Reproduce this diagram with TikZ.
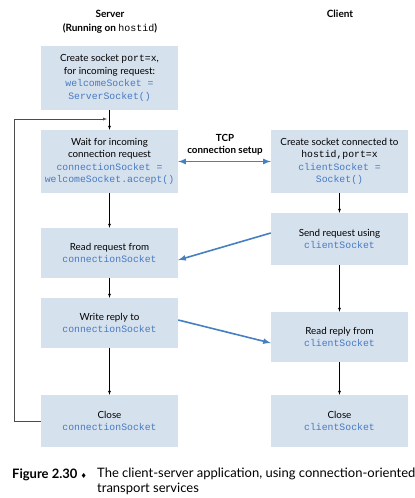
\documentclass[tikz,border=0pt]{standalone}
\usepackage{fontspec}
\setmainfont{Lato}
\setmonofont{Liberation Mono}
\newfontfamily\symfont{DejaVu Sans}
\usepackage{tikz}
\usetikzlibrary{shapes,arrows,positioning}
\definecolor{boxfill}{RGB}{214,225,238}
\definecolor{codeblue}{RGB}{72,122,192}
\definecolor{linkblue}{RGB}{70,128,192}
\newcommand{\code}[1]{{\color{codeblue}\texttt{#1}}}

\begin{document}
\begin{tikzpicture}[x=1pt,y=-1pt]

\useasboundingbox (0,0) rectangle (415,498);

\tikzstyle{sockbox}=[rectangle,fill=boxfill,minimum width=137pt,align=center,inner sep=2pt,font=\fontsize{9.8}{12.5}\selectfont]
\tikzstyle{down}=[->,>=latex,black,thin]
\tikzstyle{link}=[->,>=latex,draw=linkblue,line width=1.6pt]

% titles
\node (srv) at (110,14) {\bfseries Server};
\node [node distance=14pt,below of=srv] (srvsub) {\bfseries (Running on \texttt{\mdseries hostid})};
\node (cli) at (340,14) {\bfseries Client};

% server side
\node (screate) at (109.5,78) [sockbox,minimum height=64pt] {Create socket \texttt{port=x},\\for incoming request:\\\code{welcomeSocket =}\\\code{ServerSocket()}};
\node (swait) at (109.5,161.5) [sockbox,minimum height=63pt] {Wait for incoming\\connection request\\\code{connectionSocket =}\\\code{welcomeSocket.accept()}};
\node (sread) at (109.5,253) [sockbox,minimum height=50pt] {Read request from\\\code{connectionSocket}};
\node (swrite) at (109.5,323) [sockbox,minimum height=50pt] {Write reply to\\\code{connectionSocket}};
\node (sclose) at (109.5,421) [sockbox,minimum height=52pt] {Close\\\code{connectionSocket}};

% client side
\node (ccreate) at (339.5,161.5) [sockbox,minimum height=63pt] {Create socket connected to\\\texttt{hostid,port=x}\\\code{clientSocket =}\\\code{Socket()}};
\node (csend) at (339.5,239) [sockbox,minimum height=52pt] {Send request using\\\code{clientSocket}};
\node (cread) at (339.5,337) [sockbox,minimum height=50pt] {Read reply from\\\code{clientSocket}};
\node (cclose) at (339.5,421) [sockbox,minimum height=52pt] {Close\\\code{clientSocket}};

\draw[down] (screate) -- (swait);
\draw[down] (swait) -- (sread);
\draw[down] (sread) -- (swrite);
\draw[down] (swrite) -- (sclose);
\draw[down] (ccreate) -- (csend);
\draw[down] (csend) -- (cread);
\draw[down] (cread) -- (cclose);

% loop back
\coordinate (loopin) at (107,119);
\draw[->,>=latex,black!70] (sclose.west) -- ++(-26.5,0) |- (loopin);

% between the two sides
\draw[link,<->] (swait.east) -- (ccreate.west);
\node [align=center,font=\bfseries\fontsize{9.8}{12}\selectfont] (tcp) at (225,145) {TCP\\connection setup};
\draw[link] ([yshift=6pt]csend.west) -- ([yshift=-7pt]sread.east);
\draw[link] ([yshift=3pt]swrite.east) -- ([yshift=-6pt]cread.west);

% caption
\node [anchor=west,inner sep=0pt,font=\fontsize{13}{15}\selectfont] (fig) at (12,475) {\bfseries Figure 2.30 {\symfont\mdseries\scriptsize ♦}};
\node [anchor=north west,align=left,inner sep=0pt,font=\fontsize{13}{15}\selectfont] (cap) at (97,467.5) {The client-server application, using connection-oriented\\transport services};

\end{tikzpicture}
\end{document}
